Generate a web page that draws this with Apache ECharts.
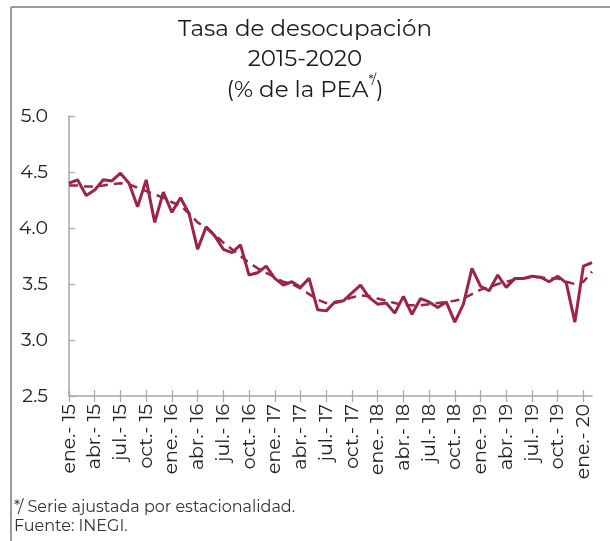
<!DOCTYPE html>
<html><head><meta charset="utf-8">
<script src="https://cdn.jsdelivr.net/npm/echarts@6/dist/echarts.min.js"></script>
<style>html,body{margin:0;padding:0;background:#fff}#c{width:610px;height:541px}</style>
</head><body><div id="c"></div>
<script>
const monthNames = ['ene.','feb.','mar.','abr.','may.','jun.','jul.','ago.','sep.','oct.','nov.','dic.'];
const years = ['15','16','17','18','19','20'];
const categories = [];
for (const y of years) for (const m of monthNames) categories.push(m + '- ' + y);
categories.length = 62; // ene.-15 .. feb.-20

const tasa = [4.40,4.43,4.29,4.34,4.43,4.42,4.49,4.40,4.19,4.43,
  4.05,4.32,4.14,4.27,4.13,3.81,4.01,3.93,3.81,3.78,
  3.85,3.58,3.60,3.66,3.55,3.49,3.52,3.47,3.55,3.27,
  3.26,3.34,3.35,3.42,3.49,3.38,3.32,3.33,3.24,3.39,
  3.23,3.37,3.34,3.29,3.34,3.16,3.32,3.64,3.48,3.44,
  3.58,3.47,3.55,3.55,3.57,3.56,3.52,3.57,3.51,3.16,
  3.66,3.69];
const tendencia = [4.38,4.38,4.37,4.37,4.38,4.39,4.40,4.39,4.36,4.33,
  4.30,4.27,4.23,4.20,4.13,4.05,4.00,3.94,3.87,3.81,
  3.75,3.69,3.64,3.60,3.56,3.52,3.50,3.46,3.41,3.36,
  3.33,3.33,3.35,3.38,3.40,3.39,3.37,3.35,3.33,3.31,
  3.31,3.31,3.32,3.33,3.34,3.35,3.37,3.41,3.45,3.47,
  3.50,3.52,3.54,3.55,3.56,3.56,3.55,3.55,3.52,3.50,
  3.52,3.61];

const titleLines = ['Tasa de desocupación', '2015-2020'];
const notes = ['*/ Serie ajustada por estacionalidad.', 'Fuente: INEGI.'];

const FONT = 'Montserrat, "Noto Sans", sans-serif';
const COLOR = '#9D2449';
const AXIS = '#A6A6A6';

const chart = echarts.init(document.getElementById('c'), null, {renderer:'canvas'});
chart.setOption({
  animation: false,
  backgroundColor: '#fff',
  textStyle: {fontFamily: FONT},
  title: [{
    text: titleLines.join('\n') + '\n{a|(% de la PEA}{s|*/}{a|)}',
    left: 'center', top: 9,
    textStyle: {fontFamily: FONT, fontSize: 23, fontWeight: 'normal', color: '#1a1a1a', lineHeight: 30,
      rich: {
        a: {fontFamily: FONT, fontSize: 23, color: '#1a1a1a', lineHeight: 32},
        s: {fontFamily: FONT, fontSize: 13, color: '#1a1a1a', verticalAlign: 'top', lineHeight: 32, padding: [0,0,10,0]}
      }}
  }],
  grid: {left: 69, right: 18, top: 116, bottom: 145, containLabel: false},
  xAxis: [{
    type: 'category', data: categories, boundaryGap: false,
    axisLine: {lineStyle: {color: AXIS, width: 1.5}},
    axisTick: {interval: 2, length: 6, lineStyle: {color: AXIS, width: 1.2}},
    axisLabel: {interval: 2, rotate: 90, fontSize: 19, color: '#222', margin: 8, fontFamily: FONT},
    splitLine: {show: false}
  }, {
    type: 'category', data: categories, boundaryGap: false, position: 'bottom',
    axisLine: {show: false},
    axisTick: {interval: 2, length: 6, inside: true, lineStyle: {color: AXIS, width: 1.2}},
    axisLabel: {show: false}, splitLine: {show: false}
  }],
  yAxis: {
    type: 'value', min: 2.5, max: 5.0, interval: 0.5,
    axisLine: {show: true, lineStyle: {color: AXIS, width: 1.5}},
    axisTick: {show: true, inside: true, length: 6, lineStyle: {color: AXIS, width: 1.2}},
    axisLabel: {fontSize: 19, color: '#222', margin: 21, fontFamily: FONT, formatter: v => v.toFixed(1)},
    splitLine: {show: false}
  },
  series: [{
    name: 'Tasa', type: 'line', data: tasa, showSymbol: false, xAxisIndex: 0,
    lineStyle: {color: COLOR, width: 3}, itemStyle: {color: COLOR}, z: 3
  }, {
    name: 'Tendencia', type: 'line', data: tendencia, showSymbol: false, xAxisIndex: 0,
    lineStyle: {color: COLOR, width: 2.5, type: [9, 6]}, itemStyle: {color: COLOR}, z: 2
  }],
  graphic: [
    {type: 'line', shape: {x1: 11, y1: 7, x2: 610, y2: 7}, style: {stroke: '#9a9a9a', lineWidth: 2}},
    {type: 'line', shape: {x1: 11, y1: 7, x2: 11, y2: 541}, style: {stroke: '#9a9a9a', lineWidth: 2}},
    {type: 'text', left: 14, top: 498, style: {text: notes.join('\n'), fontFamily: FONT, fontSize: 16, lineHeight: 19, fill: '#333'}}
  ]
});
</script></body></html>
